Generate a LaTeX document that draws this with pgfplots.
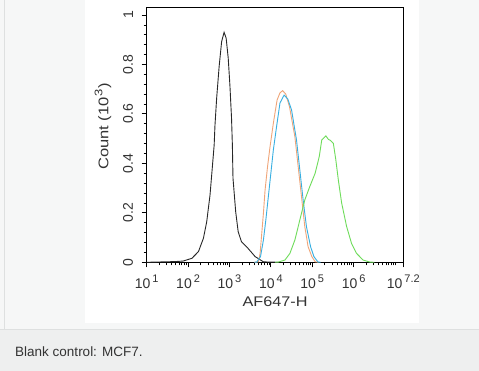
\documentclass[border=0pt]{standalone}
\usepackage{pgfplots}
\pgfplotsset{compat=1.18}
\usepackage{fontspec}
\setmainfont{Liberation Sans}
\definecolor{bgA}{RGB}{246,247,247}
\definecolor{bgB}{RGB}{238,239,239}
\definecolor{sepc}{RGB}{222,224,224}
\definecolor{txt}{RGB}{51,51,51}
\definecolor{cblack}{RGB}{40,40,40}
\definecolor{corange}{RGB}{240,165,120}
\definecolor{cblue}{RGB}{55,175,225}
\definecolor{cgreen}{RGB}{110,220,90}
\newcommand{\tl}[1]{10\hspace{2pt}\raisebox{0.42em}{\fontsize{11}{12}\selectfont #1}}
\begin{document}
\begin{tikzpicture}[x=1pt,y=1pt]
\useasboundingbox (0,0) rectangle (479,371);
\fill[bgA] (0,42) rectangle (479,371);
\fill[bgB] (0,0) rectangle (479,42);
\draw[sepc,line width=0.8pt] (0,42) -- (479,42);
\draw[sepc,line width=0.8pt] (4,42) -- (4,371);
\fill[white] (85,48.3) rectangle (419,371);
\begin{axis}[
  at={(146.7pt,108.7pt)}, anchor=south west,
  scale only axis, width=256.6pt, height=255pt,
  xmin=1, xmax=7.2, ymin=0, ymax=1.031,
  axis line style={black, line width=1pt},
  tick align=outside, xtick pos=left, ytick pos=left,
  major tick length=5pt, minor tick length=3pt,
  tick style={black, line width=0.8pt},
  minor tick style={line width=0.6pt},
  xtick={1,2,3,4,5,6,7.2},
  xticklabels={\tl{1},\tl{2},\tl{3},\tl{4},\tl{5},\tl{6},\tl{7.2}},
  minor xtick={1.301,1.477,1.602,1.699,1.778,1.845,1.903,1.954,
               2.301,2.477,2.602,2.699,2.778,2.845,2.903,2.954,
               3.301,3.477,3.602,3.699,3.778,3.845,3.903,3.954,
               4.301,4.477,4.602,4.699,4.778,4.845,4.903,4.954,
               5.301,5.477,5.602,5.699,5.778,5.845,5.903,5.954,
               6.301,6.477,6.602,6.699,6.778,6.845,6.903,6.954,7},
  ytick={0,0.2,0.4,0.6,0.8,1},
  yticklabels={0,0.2,0.4,0.6,0.8,1},
  minor y tick num=4,
  xticklabel style={font=\fontsize{14}{16}\selectfont, text=txt, anchor=base, yshift=-21.4pt},
  yticklabel style={font=\fontsize{14}{16}\selectfont, text=txt, rotate=90, anchor=south, inner ysep=8.4pt},
  clip=true,
]
\addplot[cblack, line width=0.9pt] coordinates {
(1.0,0) (1.24,0.001) (1.48,0.002) (1.70,0.003) (1.88,0.005) (2.09,0.016)
(2.25,0.043) (2.37,0.097) (2.45,0.164) (2.53,0.272) (2.59,0.393) (2.63,0.474)
(2.65,0.555) (2.69,0.663) (2.75,0.791) (2.81,0.892) (2.87,0.93) (2.92,0.906)
(2.97,0.825) (3.01,0.717) (3.05,0.582) (3.07,0.474) (3.085,0.34) (3.15,0.205)
(3.21,0.124) (3.29,0.083) (3.45,0.056) (3.62,0.023) (3.82,0.002) (3.94,0.001) (4.2,0)
};
\addplot[corange, line width=0.9pt] coordinates {
(3.60,0) (3.70,0.002) (3.74,0.036) (3.78,0.117) (3.82,0.198) (3.86,0.292)
(3.92,0.387) (3.98,0.467) (4.06,0.562) (4.15,0.656) (4.22,0.685) (4.285,0.694)
(4.36,0.68) (4.45,0.629) (4.58,0.508) (4.66,0.387) (4.74,0.266) (4.82,0.144)
(4.90,0.063) (4.99,0.023) (5.07,0.002) (5.15,0)
};
\addplot[cblue, line width=0.9pt] coordinates {
(3.60,0) (3.66,0.001) (3.75,0.023) (3.82,0.090) (3.88,0.173) (3.94,0.267)
(4.00,0.360) (4.06,0.454) (4.14,0.551) (4.22,0.644) (4.32,0.676) (4.41,0.66)
(4.50,0.616) (4.62,0.494) (4.70,0.373) (4.78,0.252) (4.86,0.144) (4.96,0.063)
(5.04,0.023) (5.14,0.001) (5.2,0)
};
\addplot[cgreen, line width=0.9pt] coordinates {
(4.10,0) (4.18,0.001) (4.34,0.009) (4.46,0.036) (4.58,0.090) (4.66,0.144)
(4.74,0.198) (4.82,0.252) (4.94,0.306) (5.07,0.360) (5.17,0.428) (5.23,0.495)
(5.33,0.511) (5.39,0.497) (5.44,0.493) (5.51,0.481) (5.57,0.414) (5.63,0.333)
(5.71,0.24) (5.83,0.145) (5.95,0.076) (6.07,0.036) (6.23,0.009) (6.39,0.001) (6.5,0)
};
\end{axis}
\node[rotate=90, text=txt, font=\fontsize{14}{16}\selectfont] at (103,244.3) {\scalebox{1.18}[1]{Count (10\hspace{1pt}\raisebox{0.42em}{\fontsize{11}{12}\selectfont 3})}};
\node[text=txt, font=\fontsize{14}{16}\selectfont] at (275,69.3) {\scalebox{1.16}[1]{AF647-H}};
\node[anchor=west, text=txt, font=\fontsize{13.5}{16}\selectfont] at (11.7,19.3) {Blank control: MCF7.};
\end{tikzpicture}
\end{document}
